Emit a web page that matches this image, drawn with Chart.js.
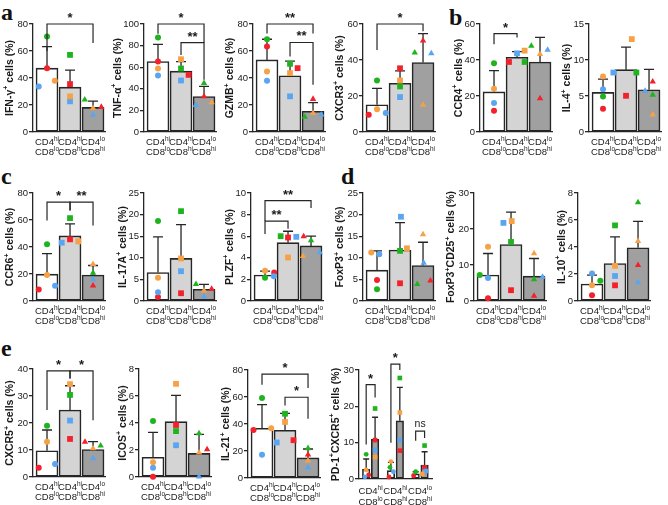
<!DOCTYPE html>
<html>
<head>
<meta charset="utf-8">
<script src="https://cdn.jsdelivr.net/npm/chart.js@4.4.1/dist/chart.umd.min.js"></script>
<style>
  body { margin: 0; background: #fff; width: 668px; height: 505px; position: relative; overflow: hidden; }
  canvas { position: absolute; }
  .tag { position: absolute; font: bold 24px "Liberation Serif", "Times New Roman", serif; line-height: 24px; color: #111; }
</style>
</head>
<body>
<div class="tag" style="left:1px;top:0px">a</div>
<div class="tag" style="left:449px;top:5px">b</div>
<div class="tag" style="left:1px;top:164px">c</div>
<div class="tag" style="left:341px;top:164px">d</div>
<div class="tag" style="left:1px;top:336px">e</div>
<script>
// T-cell subsets (x categories)
var subsetTop = ["CD4^{hi}", "CD4^{hi}", "CD4^{lo}"];
var subsetBottom = ["CD8^{lo}", "CD8^{hi}", "CD8^{hi}"];
// donor order in every list below: red, green, blue, orange

// a - IFN-g
var ifngMean = [47.3, 33.2, 18.2];
var ifngSd = [16.0, 12.6, 4.7];
var ifngDonors = [[47.3, 70.7, 33.7, 37.9], [35.5, 57.1, 22.7, 26.4], [18.5, 23.9, 12.6, 17.7]];
var ifngJitter = [[0, 0, -0.36, 0.34], [0, 0, 0, 0], [0.36, -0.36, 0, 0]];
var ifngSig = [[0, 2, 80, 60, 66, "*"]];

// a - TNF-a
var tnfMean = [65.2, 56.3, 32.9];
var tnfSd = [16.0, 8.9, 9.3];
var tnfDonors = [[65.2, 87.4, 52.3, 58.8], [52.9, 58.8, 47.7, 67.4], [32.9, 45.2, 24.9, 27.4]];
var tnfJitter = [[0, 0, 0, 0], [0.33, 0, 0, 0], [0, 0, -0.36, 0.33]];
var tnfSig = [[0, 2, 100, 91, 82.8, "*"], [1, 2, 82.8, 71.4, 48.3, "**"]];

// a - GZMB
var gzmbMean = [53.4, 41.6, 15.3];
var gzmbSd = [15.3, 10.9, 6.4];
var gzmbDonors = [[63.3, 68.7, 37.9, 44.8], [47.3, 50.5, 26.4, 43.6], [24.4, 11.1, 12.8, 14.0]];
var gzmbJitter = [[0, 0, 0, 0], [0.33, 0, 0, 0], [0, -0.36, 0.36, 0]];
var gzmbSig = [[0, 2, 80, 73, 73, "**"], [1, 2, 66.3, 56, 35, "**"]];

// a - CXCR3
var cxcr3Mean = [15.1, 27.1, 38.6];
var cxcr3Sd = [9.1, 6.9, 16.0];
var cxcr3Donors = [[9.6, 28.6, 10.5, 12.7], [35.4, 25.3, 19.4, 28.6], [50.7, 44.1, 43.7, 15.0]];
var cxcr3Jitter = [[-0.36, 0, 0.38, 0], [0, 0, 0, 0], [0, -0.36, 0.36, 0]];
var cxcr3Sig = [[0, 2, 60, 45.6, 56, "*"]];

// b - CCR4
var ccr4Mean = [22.3, 41.5, 38.9];
var ccr4Sd = [11.8, 3.2, 13.7];
var ccr4Donors = [[11.8, 38.2, 16.1, 24.0], [38.9, 38.9, 43.7, 45.2], [18.6, 47.8, 45.6, 43.2]];
var ccr4Jitter = [[0, 0, 0, 0], [-0.35, 0.33, 0, 0.33], [0, -0.38, 0.33, 0]];
var ccr4Sig = [[0, 1, 54.7, 48.8, 52.5, "*"]];

// b - IL-4
var il4Mean = [5.5, 8.66, 5.86];
var il4Sd = [1.84, 3.14, 2.84];
var il4Donors = [[3.23, 4.94, 5.95, 7.7], [5.03, 8.26, 8.26, 12.9], [7.0, 5.17, 5.7, 2.4]];
var il4Jitter = [[0, 0, 0, 0], [0, 0.45, -0.55, 0.25], [0.16, 0.16, -0.17, 0.16]];

// c - CCR6
var ccr6Mean = [19.9, 48.2, 19.2];
var ccr6Sd = [15.2, 9.0, 7.1];
var ccr6Donors = [[8.6, 42.0, 11.3, 19.2], [45.7, 61.4, 43.2, 44.2], [11.3, 20.9, 16.0, 27.3]];
var ccr6Jitter = [[-0.36, 0, 0.35, 0], [0, 0, -0.36, 0.36], [0, 0, 0, 0]];
var ccr6Sig = [[0, 1, 73.2, 59.7, 67, "*"], [1, 2, 73.2, 67, 56, "**"]];

// c - IL-17A
var il17Mean = [6.6, 9.85, 2.7];
var il17Sd = [8.25, 7.85, 1.15];
var il17Donors = [[0.9, 18.5, 2.0, 5.4], [1.8, 20.8, 6.9, 9.85], [2.8, 3.9, 1.0, 2.4]];
var il17Jitter = [[0, 0, 0, 0], [0, 0, 0, 0], [0.33, -0.35, 0, 0]];

// c - PLZF
var plzfMean = [2.4, 5.4, 5.1];
var plzfSd = [0.37, 1.06, 0.9];
var plzfDonors = [[2.65, 2.15, 2.3, 2.8], [5.88, 6.0, 5.94, 4.03], [5.97, 5.6, 4.5, 4.15]];
var plzfJitter = [[0.4, 0, 0.38, 0], [0, -0.32, 0.36, 0], [-0.32, 0, 0.38, -0.35]];
var plzfSig = [[0, 2, 9.3, 7.4, 8.6, "**"], [0, 1, 7.4, 6.2, 6.7, "**"]];

// d - FoxP3
var foxp3Mean = [7.15, 11.8, 8.2];
var foxp3Sd = [4.45, 6.35, 5.4];
var foxp3Donors = [[4.85, 2.7, 10.8, 11.2], [4.1, 11.6, 19.5, 12.2], [4.7, 3.9, 8.8, 15.4]];
var foxp3Jitter = [[0, 0, 0.1, -0.25], [0, 0, 0.04, 0.3], [0.32, -0.25, 0.03, 0]];

// d - FoxP3+CD25+
var tregMean = [7.2, 15.7, 6.9];
var tregSd = [6.0, 9.0, 4.9];
var tregDonors = [[0.75, 7.2, 6.4, 15.05], [3.0, 16.4, 21.7, 22.2], [1.4, 6.0, 6.7, 13.2]];
var tregJitter = [[0, -0.36, 0, 0], [0, 0, -0.33, 0.03], [0, 0, 0.37, 0]];

// d - IL-10
var il10Mean = [1.26, 2.78, 3.94];
var il10Sd = [0.66, 1.97, 1.96];
var il10Donors = [[0.42, 1.5, 2.04, 1.16], [1.16, 5.6, 1.85, 2.6], [2.66, 7.3, 1.38, 4.43]];
var il10Jitter = [[0, 0.36, 0, 0], [0, 0, 0, 0], [0, 0, 0, 0]];

// e - CXCR5
var cxcr5Mean = [9.7, 24.8, 10.2];
var cxcr5Sd = [7.7, 9.0, 2.9];
var cxcr5Donors = [[3.4, 19.0, 4.8, 13.1], [14.1, 30.4, 20.9, 34.4], [13.0, 11.6, 6.9, 10.6]];
var cxcr5Jitter = [[-0.36, 0, 0.35, 0], [0, 0, 0, 0], [-0.35, 0.33, 0, 0]];
var cxcr5Sig = [[0, 1, 39.3, 24.8, 36.5, "*"], [1, 2, 39.3, 36.5, 21, "*"]];

// e - ICOS
var icosMean = [1.46, 4.1, 1.75];
var icosSd = [1.84, 1.95, 1.41];
var icosDonors = [[0.02, 4.15, 0.69, 1.09], [3.85, 3.4, 2.35, 6.9], [2.05, 3.23, 0.02, 1.8]];
var icosJitter = [[0, 0, 0, 0], [0, 0, 0, 0], [0.35, 0, 0, 0]];

// e - IL-21
var il21Mean = [36.8, 35.4, 14.9];
var il21Sd = [17.6, 12.4, 6.6];
var il21Donors = [[35.6, 59.3, 17.3, 36.8], [28.0, 47.6, 26.3, 41.5], [17.3, 22.0, 7.6, 12.9]];
var il21Jitter = [[-0.37, 0, 0, 0.4], [0.37, 0, -0.36, 0], [0, 0, 0, 0]];
var il21Sig = [[0, 2, 77, 69, 66.6, "*"], [1, 2, 59.8, 53.7, 43.9, "*"]];

// e - PD-1+CXCR5+ (two bars per subset)
var pdWhiteMean = [2.66, 2.3, 1.4];
var pdWhiteSd = [2.84, 2.3, 0.6];
var pdGreyMean = [10.9, 16.0, 3.85];
var pdGreySd = [6.1, 9.2, 3.65];
var pdWhiteDonors = [[1.1, 6.8, 0.6, 2.5], [0.55, 3.2, 2.0, 4.8], [0.9, 2.0, null, null]];
var pdWhiteJitter = [[0.1, 0, -0.05, 0], [-0.08, -0.04, 0.1, 0], [-0.08, 0, 0, 0]];
var pdGreyDonors = [[10.7, 19.4, 8.0, 6.0], [7.8, 27.8, 10.7, 18.3], [3.2, 9.2, 2.2, 1.4]];
var pdGreyJitter = [[0, 0, 0, 0], [0, 0, 0, 0], [0, 0, 0.05, -0.1]];
var pdSig = [[-0.18, 0.18, 26, 9.5, 22.4, "*"], [0.82, 1.18, 31.6, 10, 30, "*"], [1.82, 2.18, 13.2, 10.5, 11.3, "ns"]];

var FONT = '"Liberation Sans", Arial, Helvetica, sans-serif';
var INK = "#262626";
var barFills = ["#ffffff", "#d4d4d4", "#a0a0a0"];
var shapes = ["circle", "rect", "triangle"];
var donorColors = ["#f3212b", "#1fb41f", "#5aa5f1", "#f7a146"];
var dotSize = { circle: 3, rect: 4.1, triangle: 3.7 };

// text with ^{sup} parts, centred on cx, baseline y
function drawRich(ctx, text, cx, y, size, weight) {
  var parts = [], re = /\^\{([^}]*)\}|\^(.)|([^^]+)/g, m;
  while ((m = re.exec(text))) {
    if (m[1] != null) parts.push([m[1], 1]);
    else if (m[2] != null) parts.push([m[2], 1]);
    else parts.push([m[3], 0]);
  }
  var sup = size * 0.68, widths = [], total = 0;
  parts.forEach(function (pt) {
    ctx.font = weight + " " + (pt[1] ? sup : size) + "px " + FONT;
    var w = ctx.measureText(pt[0]).width;
    widths.push(w);
    total += w;
  });
  var x = cx - total / 2;
  ctx.textAlign = "left";
  ctx.textBaseline = "alphabetic";
  parts.forEach(function (pt, i) {
    ctx.font = weight + " " + (pt[1] ? sup : size) + "px " + FONT;
    ctx.fillText(pt[0], x, pt[1] ? y - size * 0.42 : y);
    x += widths[i];
  });
}

function threeBars(mean, sd, donors, jitter) {
  return mean.map(function (v, i) {
    return { x: i, mean: v, sd: sd[i], fill: barFills[i], shape: shapes[i], donors: donors[i], jitter: jitter[i] };
  });
}

function drawErrors(chart, p) {
  var ctx = chart.ctx, xs = chart.scales.x, ys = chart.scales.y;
  ctx.save();
  ctx.strokeStyle = INK;
  ctx.lineWidth = 1.3;
  p.bars.forEach(function (b) {
    var x = xs.getPixelForValue(b.x);
    var y0 = ys.getPixelForValue(b.mean), y1 = ys.getPixelForValue(b.mean + b.sd);
    ctx.beginPath();
    ctx.moveTo(x, y0);
    ctx.lineTo(x, y1);
    ctx.moveTo(x - p.cap / 2, y1);
    ctx.lineTo(x + p.cap / 2, y1);
    ctx.stroke();
  });
  ctx.restore();
}

function drawDecor(chart, p) {
  var ctx = chart.ctx, xs = chart.scales.x, ys = chart.scales.y, area = chart.chartArea;
  ctx.save();
  ctx.strokeStyle = INK;
  ctx.fillStyle = "#1a1a1a";
  ctx.lineWidth = 1.2;
  (p.sig || []).forEach(function (s) {
    var x1 = xs.getPixelForValue(s[0]), x2 = xs.getPixelForValue(s[1]);
    var y = ys.getPixelForValue(s[2]);
    ctx.beginPath();
    ctx.moveTo(x1, ys.getPixelForValue(s[3]));
    ctx.lineTo(x1, y);
    ctx.lineTo(x2, y);
    ctx.lineTo(x2, ys.getPixelForValue(s[4]));
    ctx.stroke();
    ctx.textAlign = "center";
    ctx.textBaseline = "alphabetic";
    if (s[5] === "ns") {
      ctx.font = "10.5px " + FONT;
      ctx.fillText(s[5], (x1 + x2) / 2, y - 4);
    } else {
      ctx.font = "bold 13px " + FONT;
      ctx.fillText(s[5], (x1 + x2) / 2, y - 2);
    }
  });
  // category labels under the bars
  p.labels.forEach(function (lab) {
    var cx = xs.getPixelForValue(lab[0]);
    drawRich(ctx, lab[1], cx, area.bottom + p.lab1, 9.5, "normal");
    drawRich(ctx, lab[2], cx, area.bottom + p.lab2, 9.5, "normal");
  });
  // y title
  ctx.translate(area.left + p.tx, (area.top + area.bottom) / 2);
  ctx.rotate(-Math.PI / 2);
  drawRich(ctx, p.title, 0, 3.8, 10.5, "bold");
  ctx.restore();
}

function makePanel(p) {
  var padL = 38, padT = 32, padR = 6, padB = 30;
  var cv = document.createElement("canvas");
  cv.width = padL + p.width + padR;
  cv.height = padT + (p.bottom - p.top) + padB;
  cv.style.left = (p.ax - padL) + "px";
  cv.style.top = (p.top - padT) + "px";
  document.body.appendChild(cv);

  var barPts = [], barCols = [], dots = [], dotCols = [], dotStyles = [], dotRadii = [];
  p.bars.forEach(function (b) {
    barPts.push({ x: b.x, y: b.mean });
    barCols.push(b.fill);
    b.donors.forEach(function (v, k) {
      if (v === null) return;
      dots.push({ x: b.x + b.jitter[k], y: v });
      dotCols.push(donorColors[k]);
      dotStyles.push(b.shape);
      dotRadii.push(dotSize[b.shape] * p.dotScale);
    });
  });

  new Chart(cv, {
    type: "bar",
    data: {
      datasets: [
        { type: "bar", data: barPts, backgroundColor: barCols, borderColor: INK, borderWidth: 1.6,
          borderSkipped: false, barThickness: p.barW, order: 2 },
        { type: "scatter", data: dots, backgroundColor: dotCols, borderWidth: 0, pointStyle: dotStyles,
          pointRadius: dotRadii, clip: false, order: 1 }
      ]
    },
    options: {
      responsive: false,
      animation: false,
      devicePixelRatio: 1,
      events: [],
      layout: { padding: { left: 0, top: padT, right: padR, bottom: padB } },
      plugins: { legend: { display: false }, tooltip: { enabled: false } },
      scales: {
        x: {
          type: "linear", min: p.xmin, max: p.xmax, offset: false,
          ticks: { display: false },
          grid: { drawOnChartArea: false, drawTicks: false },
          border: { display: true, color: INK, width: 1.3 },
          afterFit: function (s) { s.height = 0; }
        },
        y: {
          min: 0, max: p.max,
          ticks: { stepSize: p.step, color: "#1a1a1a", padding: 1, font: { family: FONT, size: 9.5 } },
          grid: { drawOnChartArea: false, tickLength: 4, color: INK, lineWidth: 1.3 },
          border: { display: true, color: INK, width: 1.3 },
          afterFit: function (s) { s.width = padL; }
        }
      }
    },
    plugins: [{
      id: "decor",
      afterDatasetDraw: function (chart, args) { if (args.index === 0) drawErrors(chart, p); },
      afterDraw: function (chart) { drawDecor(chart, p); }
    }]
  });
}

var stdLabels = [[0, subsetTop[0], subsetBottom[0]], [1, subsetTop[1], subsetBottom[1]], [2, subsetTop[2], subsetBottom[2]]];

function stdPanel(title, max, step, bars, sig, ax, top, bottom, tx) {
  makePanel({ title: title, max: max, step: step, bars: bars, sig: sig, ax: ax, top: top, bottom: bottom, tx: tx,
    width: 72, xmin: -0.609, xmax: 2.52, barW: 22, cap: 10, dotScale: 1, labels: stdLabels, lab1: 13, lab2: 23 });
}

stdPanel("IFN-γ^+ cells (%)", 80, 20, threeBars(ifngMean, ifngSd, ifngDonors, ifngJitter), ifngSig, 33, 24, 132, -24);
stdPanel("TNF-α^+ cells (%)", 100, 20, threeBars(tnfMean, tnfSd, tnfDonors, tnfJitter), tnfSig, 144, 24, 132, -27);
stdPanel("GZMB^+ cells (%)", 80, 20, threeBars(gzmbMean, gzmbSd, gzmbDonors, gzmbJitter), gzmbSig, 253, 24, 132, -23.5);
stdPanel("CXCR3^+ cells (%)", 60, 20, threeBars(cxcr3Mean, cxcr3Sd, cxcr3Donors, cxcr3Jitter), cxcr3Sig, 363, 24, 132, -24);
stdPanel("CCR4^+ cells (%)", 60, 20, threeBars(ccr4Mean, ccr4Sd, ccr4Donors, ccr4Jitter), ccr4Sig, 480, 24, 132, -22);
stdPanel("IL-4^+ cells (%)", 15, 5, threeBars(il4Mean, il4Sd, il4Donors, il4Jitter), [], 589, 24, 132, -22.5);

stdPanel("CCR6^+ cells (%)", 80, 20, threeBars(ccr6Mean, ccr6Sd, ccr6Donors, ccr6Jitter), ccr6Sig, 33, 193, 301, -23.5);
stdPanel("IL-17A^+ cells (%)", 25, 5, threeBars(il17Mean, il17Sd, il17Donors, il17Jitter), [], 144, 193, 301, -22);
stdPanel("PLZF^+ cells (%)", 10, 2, threeBars(plzfMean, plzfSd, plzfDonors, plzfJitter), plzfSig, 251, 193, 301, -22);
stdPanel("FoxP3^+ cells (%)", 25, 5, threeBars(foxp3Mean, foxp3Sd, foxp3Donors, foxp3Jitter), [], 363, 193, 301, -23.5);
stdPanel("FoxP3^+CD25^+ cells (%)", 30, 10, threeBars(tregMean, tregSd, tregDonors, tregJitter), [], 474, 193, 301, -23.5);
stdPanel("IL-10^+ cells (%)", 8, 2, threeBars(il10Mean, il10Sd, il10Donors, il10Jitter), [], 578, 193, 301, -17);

stdPanel("CXCR5^+ cells (%)", 40, 10, threeBars(cxcr5Mean, cxcr5Sd, cxcr5Donors, cxcr5Jitter), cxcr5Sig, 33, 369, 477, -23.5);
stdPanel("ICOS^+ cells (%)", 8, 2, threeBars(icosMean, icosSd, icosDonors, icosJitter), [], 139, 369, 477, -17);
stdPanel("IL-21^+ cells (%)", 80, 20, threeBars(il21Mean, il21Sd, il21Donors, il21Jitter), il21Sig, 248, 370, 478, -22.5);

// PD-1+CXCR5+ : white and grey bar inside each subset
var pdBars = [];
[0, 1, 2].forEach(function (g) {
  pdBars.push({ x: g - 0.18, mean: pdWhiteMean[g], sd: pdWhiteSd[g], fill: barFills[0], shape: "circle",
    donors: pdWhiteDonors[g], jitter: pdWhiteJitter[g] });
  pdBars.push({ x: g + 0.18, mean: pdGreyMean[g], sd: pdGreySd[g], fill: barFills[2], shape: "rect",
    donors: pdGreyDonors[g], jitter: pdGreyJitter[g] });
});
makePanel({ title: "PD-1^+CXCR5^+ cells (%)", max: 30, step: 10, bars: pdBars, sig: pdSig, ax: 359, top: 370, bottom: 479,
  tx: -24, width: 73, xmin: -0.47, xmax: 2.48, barW: 7.5, cap: 6, dotScale: 0.8, labels: stdLabels, lab1: 15, lab2: 25.5 });
</script>
</body>
</html>
